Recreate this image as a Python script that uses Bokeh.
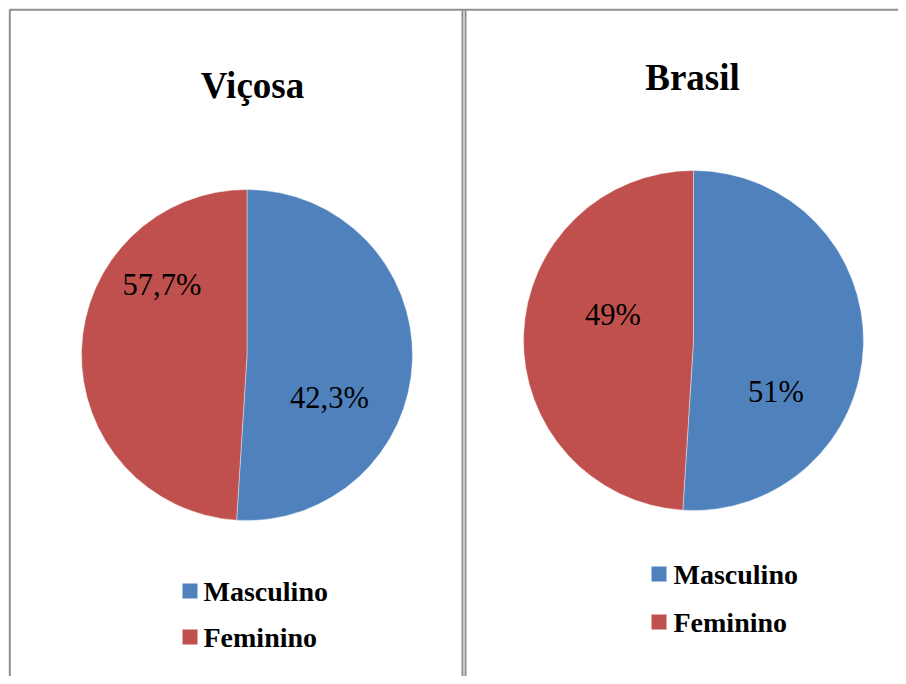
import math
from bokeh.plotting import figure
from bokeh.models import Range1d
from bokeh.core.properties import value
from bokeh.embed import file_html
from bokeh.resources import INLINE

# ---------------- data ----------------
categories = ["Masculino", "Feminino"]
colors = ["#4F81BD", "#C0504D"]
panel_titles = ["Viçosa", "Brasil"]
# slice sizes as drawn in the picture (percent)
vicosa_shares = [51.0, 49.0]
brasil_shares = [51.0, 49.0]
# data labels as printed on the slices
vicosa_labels = ["42,3%", "57,7%"]
brasil_labels = ["51%", "49%"]

# ---------------- layout (screenshot pixels) ----------------
W, H = 898, 676
TITLE_FS, LABEL_FS, LEG_FS = 37, 30.5, 28


def Y(py):
    return H - py


panels = [
    dict(title=panel_titles[0], shares=vicosa_shares, labels=vicosa_labels,
         cx=246.5, cy=354.5, r=165.5, tx=252, ty=84.5,
         lab_pos=[(329, 397.5), (161.5, 284.5)],
         leg_x=189.5, leg_y=[590.5, 636.5], leg_tx=203),
    dict(title=panel_titles[1], shares=brasil_shares, labels=brasil_labels,
         cx=693, cy=340, r=170, tx=692, ty=77,
         lab_pos=[(775.5, 391), (612.5, 314)],
         leg_x=658.5, leg_y=[573.5, 621.5], leg_tx=673),
]

p = figure(width=W, height=H, output_backend="svg", toolbar_location=None,
           x_range=Range1d(0, W), y_range=Range1d(0, H),
           min_border=0, background_fill_color="white",
           border_fill_color="white")
p.axis.visible = False
p.grid.visible = False
p.outline_line_color = None

SERIF = value("Liberation Serif")

# frame lines
border_col = "#8f8f8f"
p.segment(x0=[9], y0=[Y(9.3)], x1=[W], y1=[Y(9.3)], line_color=border_col, line_width=2)
p.segment(x0=[9.3], y0=[Y(9)], x1=[9.3], y1=[Y(H)], line_color=border_col, line_width=2)
p.segment(x0=[462, 465], y0=[Y(9), Y(9)], x1=[462, 465], y1=[Y(H), Y(H)],
          line_color=border_col, line_width=2)

for pn in panels:
    total = sum(pn["shares"])
    cum = 0.0
    starts, ends = [], []
    for s in pn["shares"]:
        starts.append(math.pi / 2 - 2 * math.pi * cum / total)
        cum += s
        ends.append(math.pi / 2 - 2 * math.pi * cum / total)
    n = len(pn["shares"])
    p.wedge(x=[pn["cx"]] * n, y=[Y(pn["cy"])] * n, radius=pn["r"],
            start_angle=starts, end_angle=ends, direction="clock",
            fill_color=colors, line_color="white", line_width=0.8, line_alpha=0.5)

    # title (positions are visual centres)
    p.text(x=[pn["tx"]], y=[Y(pn["ty"])], text=[pn["title"]],
           text_font=SERIF, text_font_style="bold", text_font_size=f"{TITLE_FS}px",
           text_align="center", text_baseline="middle", text_color="black")

    # data labels
    p.text(x=[q[0] for q in pn["lab_pos"]], y=[Y(q[1]) for q in pn["lab_pos"]],
           text=pn["labels"], text_font=SERIF, text_font_size=f"{LABEL_FS}px",
           text_align="center", text_baseline="middle", text_color="black")

    # legend
    p.rect(x=[pn["leg_x"]] * n, y=[Y(v) for v in pn["leg_y"]], width=15, height=15,
           fill_color=colors, line_color=None)
    p.text(x=[pn["leg_tx"]] * n, y=[Y(v) for v in pn["leg_y"]], text=categories,
           text_font=SERIF, text_font_style="bold", text_font_size=f"{LEG_FS}px",
           text_align="left", text_baseline="middle", text_color="black")

open("out.html", "w").write(file_html(p, INLINE))
